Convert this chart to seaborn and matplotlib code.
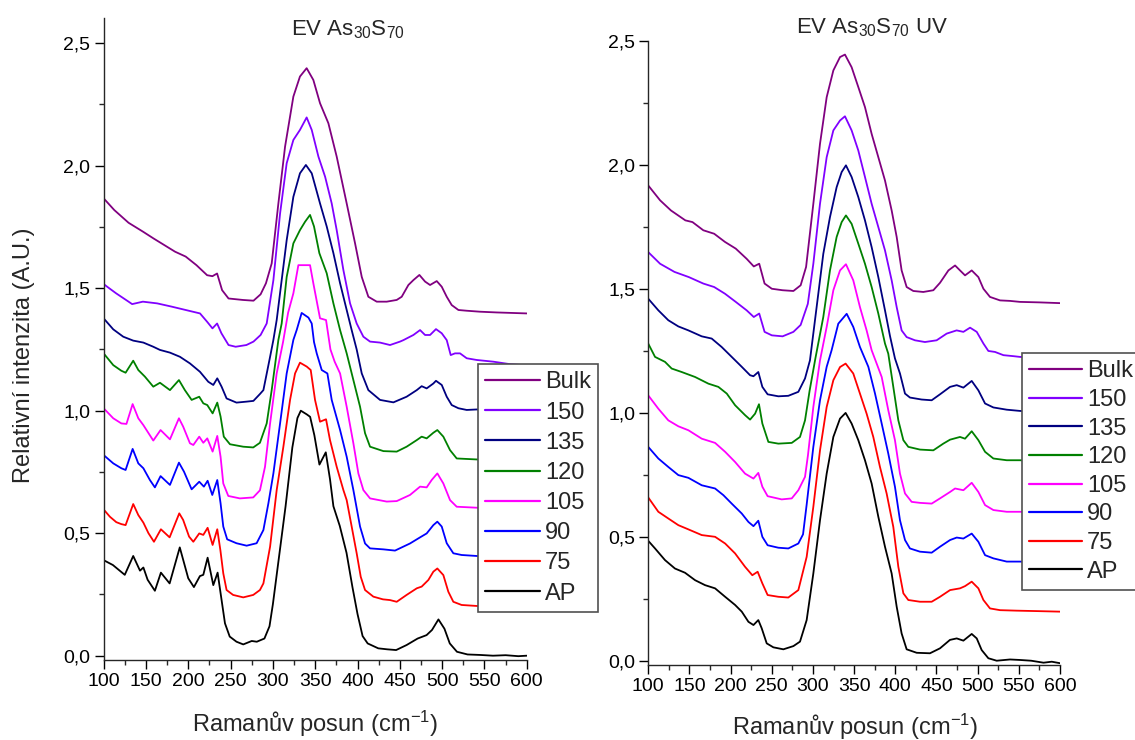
import pandas as pd
import matplotlib
matplotlib.use("Agg")
import matplotlib.pyplot as plt
import seaborn as sns
from matplotlib.ticker import MultipleLocator, FuncFormatter

# Sample names (legend order) and their line colours
SAMPLES = ["Bulk", "150", "135", "120", "105", "90", "75", "AP"]
COLORS = ["#800080", "#8000FF", "#000080", "#008000",
          "#FF00FF", "#0000FF", "#FF0000", "#000000"]

X_TICKS = [100, 150, 200, 250, 300, 350, 400, 450, 500, 550, 600]

# ---- EV As30S70 : (Raman shift [cm-1], relative intensity) ----
L_AP = [(100, 0.39), (111, 0.37), (125, 0.33), (135, 0.407), (143, 0.347), (147, 0.36),
        (152, 0.31), (160.6, 0.265), (167.7, 0.339), (178, 0.295), (190, 0.442),
        (200, 0.316), (206.7, 0.28), (213.8, 0.325), (217.8, 0.33), (222.9, 0.40),
        (229.6, 0.288), (234.7, 0.339), (239.4, 0.227), (243.4, 0.132), (249, 0.078),
        (257, 0.057), (265, 0.046), (275, 0.06), (281, 0.057), (290, 0.07), (296, 0.12),
        (300, 0.21), (306, 0.37), (315, 0.61), (323, 0.85), (329, 0.97), (333, 1.0),
        (340, 0.985), (344, 0.975), (349, 0.90), (355, 0.78), (362.5, 0.83), (367.5, 0.72),
        (371.5, 0.61), (379, 0.53), (387, 0.42), (394, 0.28), (400, 0.17), (406, 0.08),
        (412, 0.05), (424.5, 0.03), (435, 0.026), (445.6, 0.023), (458, 0.0435),
        (471, 0.07), (481.6, 0.084), (488, 0.105), (495.6, 0.148), (502.7, 0.11),
        (509, 0.05), (517.5, 0.016), (530, 0.005), (545, 0.003), (560, 0.0),
        (575, 0.002), (590, -0.002), (600, 0.0)]

L_75 = [(100, 0.597), (107.5, 0.567), (115, 0.545), (121, 0.537), (126, 0.533), (135, 0.619),
        (141, 0.574), (147, 0.543), (153, 0.50), (159.5, 0.465), (167.7, 0.516), (178, 0.483),
        (189.4, 0.581), (194, 0.554), (201, 0.486), (206, 0.465), (213, 0.499), (217.8, 0.493),
        (222.9, 0.522), (228.8, 0.452), (234.3, 0.516), (238, 0.43), (241.4, 0.336),
        (245.3, 0.268), (253, 0.248), (265, 0.238), (276.8, 0.248), (284.7, 0.268),
        (288.8, 0.295), (296.7, 0.445), (304.5, 0.676), (312.4, 0.853), (320.3, 1.044),
        (326.2, 1.152), (332, 1.196), (340, 1.18), (344.7, 1.166), (349.8, 1.044),
        (355.7, 0.955), (362.8, 0.965), (367.5, 0.88), (375.4, 0.771), (383.3, 0.676),
        (387.2, 0.635), (393.1, 0.527), (399, 0.418), (403.8, 0.322), (408.9, 0.268),
        (418.7, 0.241), (430, 0.23), (438.4, 0.227), (446.3, 0.22), (458, 0.248),
        (470, 0.275), (475.8, 0.282), (483.7, 0.309), (489.6, 0.343), (494.3, 0.356),
        (501.4, 0.329), (507.3, 0.261), (513.2, 0.22), (523, 0.207), (540.8, 0.203),
        (570, 0.2), (600, 0.2)]

L_90 = [(100, 0.819), (111.4, 0.785), (121, 0.765), (126, 0.758), (134.3, 0.844), (141, 0.785),
        (147, 0.765), (154.7, 0.717), (160.6, 0.687), (167.3, 0.733), (178.4, 0.697),
        (189, 0.788), (195, 0.751), (204, 0.679), (213, 0.71), (218.5, 0.69), (222.9, 0.714),
        (228.4, 0.656), (234.3, 0.717), (238.2, 0.622), (241.4, 0.527), (246, 0.475),
        (257, 0.459), (269, 0.449), (280.8, 0.459), (288.8, 0.513), (294.7, 0.622),
        (300.6, 0.744), (308.5, 0.948), (316.3, 1.152), (324.2, 1.289), (328.2, 1.33),
        (334, 1.399), (342, 1.38), (345.9, 1.356), (348.6, 1.28), (351.8, 1.234),
        (357.7, 1.166), (364.4, 1.152), (369.5, 1.044), (379.4, 0.921), (387.2, 0.812),
        (395.1, 0.676), (403, 0.527), (408.9, 0.458), (414.8, 0.438), (430.6, 0.434),
        (444.3, 0.429), (462, 0.458), (473.9, 0.483), (481.7, 0.499), (489.6, 0.533),
        (494.3, 0.547), (499.5, 0.527), (505.4, 0.459), (513.2, 0.418), (523, 0.411),
        (540.8, 0.407), (570, 0.403), (600, 0.40)]

L_105 = [(100, 1.01), (111.4, 0.969), (121, 0.948), (127, 0.946), (134.3, 1.027), (141, 0.969),
         (147, 0.941), (158.7, 0.878), (167.3, 0.921), (178.4, 0.883), (189, 0.969),
         (194, 0.935), (202, 0.867), (206, 0.86), (213, 0.894), (217.8, 0.869), (222.5, 0.887),
         (228.8, 0.833), (234.3, 0.897), (238.2, 0.812), (241.4, 0.703), (247.3, 0.652),
         (261, 0.642), (276.8, 0.646), (284.7, 0.675), (290.7, 0.771), (296.7, 0.948),
         (304.5, 1.152), (312, 1.28), (318, 1.40), (324.2, 1.479), (330.1, 1.594),
         (343.9, 1.594), (347.8, 1.52), (355.7, 1.377), (362.8, 1.37), (368, 1.25),
         (373, 1.20), (379.4, 1.152), (387.2, 1.016), (395.1, 0.867), (401, 0.744),
         (406.9, 0.676), (414.8, 0.642), (434.5, 0.629), (446.3, 0.631), (462, 0.656),
         (473.9, 0.69), (481.7, 0.687), (487.6, 0.717), (494.3, 0.744), (501.4, 0.703),
         (509.3, 0.635), (517.2, 0.608), (540.8, 0.604), (570, 0.60), (600, 0.60)]

L_120 = [(100, 1.234), (111.4, 1.186), (121, 1.163), (126, 1.155), (135, 1.204), (141, 1.166),
         (148.8, 1.139), (158.7, 1.098), (166.6, 1.114), (178.4, 1.084), (189, 1.125),
         (196, 1.084), (204, 1.044), (213, 1.057), (217.8, 1.03), (222.5, 1.023),
         (228.8, 0.989), (234.3, 1.033), (238.2, 0.976), (242, 0.894), (249.3, 0.863),
         (265, 0.853), (276.8, 0.85), (284.7, 0.869), (292.7, 0.948), (298.6, 1.084),
         (306.5, 1.289), (310.4, 1.356), (316.3, 1.546), (324.2, 1.683), (332, 1.737),
         (338, 1.771), (343.9, 1.799), (348.6, 1.752), (354.9, 1.643), (363.6, 1.561),
         (371.5, 1.438), (379.4, 1.329), (387.2, 1.234), (395.1, 1.125), (403, 1.016),
         (408.9, 0.908), (414.8, 0.853), (430.6, 0.835), (446.3, 0.833), (458, 0.853),
         (470, 0.88), (475.8, 0.894), (481.7, 0.887), (489.6, 0.91), (494.3, 0.921),
         (501.4, 0.894), (509.3, 0.839), (517.2, 0.805), (540.8, 0.801), (570, 0.80),
         (600, 0.80)]

L_135 = [(100, 1.377), (111.4, 1.332), (123.2, 1.302), (135, 1.286), (147, 1.278),
         (158.7, 1.261), (166.6, 1.248), (178.4, 1.237), (190.2, 1.22), (202, 1.193),
         (213.8, 1.159), (223.7, 1.118), (229.6, 1.105), (234.3, 1.132), (239.4, 1.098),
         (245.3, 1.05), (257, 1.033), (269, 1.037), (277, 1.04), (284.7, 1.068),
         (288.8, 1.084), (296.7, 1.22), (300.6, 1.289), (304.5, 1.37), (310.4, 1.533),
         (316.3, 1.696), (324.2, 1.873), (332, 1.969), (339, 2.003), (345.9, 1.969),
         (355.7, 1.846), (363.6, 1.752), (371.5, 1.643), (379.4, 1.52), (387.2, 1.411),
         (393.1, 1.329), (399, 1.25), (405, 1.152), (412.8, 1.084), (426.6, 1.044),
         (442.4, 1.034), (458, 1.057), (470, 1.084), (475.8, 1.1), (481.7, 1.091),
         (489.6, 1.111), (492.7, 1.122), (499.5, 1.105), (505.4, 1.057), (511.3, 1.023),
         (519.2, 1.01), (529, 1.003), (540.8, 1.005), (570, 1.0), (600, 1.0)]

L_150 = [(100, 1.517), (104.2, 1.506), (114.8, 1.479), (129.5, 1.445), (133.7, 1.435),
         (146.4, 1.445), (163.3, 1.438), (180.1, 1.425), (197, 1.411), (213.9, 1.397),
         (222.3, 1.363), (228.6, 1.336), (234.1, 1.356), (239.2, 1.316), (247.6, 1.268),
         (256, 1.261), (268.7, 1.268), (277.1, 1.282), (285.5, 1.309), (292.7, 1.356),
         (300.6, 1.533), (308.5, 1.805), (316.3, 2.01), (324.2, 2.105), (332, 2.146),
         (339.9, 2.197), (345.9, 2.146), (353.8, 2.037), (361.7, 1.955), (369.5, 1.846),
         (375.4, 1.737), (383.3, 1.574), (391.2, 1.438), (399, 1.356), (406.9, 1.302),
         (414.8, 1.282), (426.6, 1.278), (438.4, 1.268), (450.2, 1.282), (454.2, 1.288),
         (466, 1.309), (473.9, 1.329), (479.8, 1.309), (485.7, 1.309), (492.7, 1.333),
         (499.5, 1.316), (505.4, 1.288), (510.1, 1.227), (515.2, 1.234), (521.1, 1.234),
         (529, 1.214), (540.8, 1.207), (560.5, 1.2), (580, 1.19), (600, 1.185)]

L_BULK = [(100, 1.867), (112.6, 1.819), (129.5, 1.767), (146.4, 1.731), (159, 1.703),
          (171.7, 1.676), (184.4, 1.649), (197, 1.629), (209.7, 1.594), (222.3, 1.553),
          (228.6, 1.549), (234.1, 1.56), (240, 1.492), (247.6, 1.458), (264.5, 1.452),
          (277.1, 1.449), (285.5, 1.475), (291.8, 1.52), (298.6, 1.601), (306.5, 1.846),
          (314.4, 2.078), (324.2, 2.282), (332, 2.364), (339.9, 2.398), (347.8, 2.35),
          (355.7, 2.255), (365.6, 2.173), (375.4, 2.037), (387.2, 1.846), (397.1, 1.683),
          (405, 1.546), (412.8, 1.465), (422.7, 1.445), (434.5, 1.445), (446.3, 1.452),
          (452.2, 1.465), (460.1, 1.513), (466, 1.533), (473.1, 1.554), (479.8, 1.527),
          (485.7, 1.513), (493.6, 1.529), (499.5, 1.506), (505.4, 1.465), (511.3, 1.431),
          (519.2, 1.411), (529, 1.408), (544.8, 1.404), (564.5, 1.401), (600, 1.397)]

# ---- EV As30S70 UV ----
R_AP = [(100, 0.484), (108.3, 0.453), (120.4, 0.406), (132.5, 0.372), (144.7, 0.355),
        (156.9, 0.325), (169, 0.305), (181.2, 0.292), (193.4, 0.258), (205.5, 0.225),
        (213.6, 0.198), (221.7, 0.157), (227.8, 0.144), (233.7, 0.164), (237.8, 0.131),
        (243.9, 0.07), (252, 0.054), (264.1, 0.046), (276.3, 0.059), (284.3, 0.077),
        (292.4, 0.164), (300.5, 0.352), (308.6, 0.567), (316.7, 0.755), (324.8, 0.903),
        (332.9, 0.977), (339.7, 1.0), (347, 0.957), (355.1, 0.89), (363.2, 0.809),
        (371.3, 0.715), (379.4, 0.581), (387.5, 0.46), (395.6, 0.352), (401.7, 0.218),
        (407.7, 0.11), (413.8, 0.046), (426, 0.032), (442.1, 0.03), (454.3, 0.05),
        (466.4, 0.084), (474.6, 0.09), (482.7, 0.081), (492.8, 0.108), (498.9, 0.09),
        (504.9, 0.043), (513, 0.01), (523.1, 0.0), (539.3, 0.005), (551.4, 0.003),
        (565, 0.0), (580, -0.008), (590, -0.004), (600, -0.01)]

R_75 = [(100, 0.659), (112.3, 0.601), (124.4, 0.574), (136.6, 0.547), (148.8, 0.53),
        (165, 0.507), (181.2, 0.5), (193.4, 0.473), (205.5, 0.433), (217.6, 0.379),
        (226.4, 0.345), (232.9, 0.359), (238.6, 0.312), (245, 0.265), (258, 0.258),
        (270.1, 0.255), (282.3, 0.285), (292.4, 0.419), (300.5, 0.621), (308.6, 0.849),
        (316.7, 1.024), (324.8, 1.132), (332.9, 1.185), (339.7, 1.199), (349, 1.159),
        (357.1, 1.078), (365.2, 0.997), (373.3, 0.903), (381.4, 0.782), (389.5, 0.675),
        (397.6, 0.54), (403.7, 0.379), (409.8, 0.272), (415.8, 0.245), (430, 0.238),
        (444.2, 0.238), (454.3, 0.258), (466.5, 0.285), (478.6, 0.292), (484.7, 0.301),
        (492.8, 0.319), (500.9, 0.292), (507, 0.245), (515, 0.211), (527.2, 0.204),
        (547.4, 0.202), (575, 0.2), (600, 0.198)]

R_90 = [(100, 0.863), (112.3, 0.816), (124.4, 0.782), (136.6, 0.749), (148.8, 0.738),
        (165, 0.708), (181.2, 0.695), (191.3, 0.668), (201.4, 0.634), (213.6, 0.594),
        (221.7, 0.56), (227.8, 0.543), (233.7, 0.565), (238.6, 0.5), (245, 0.466),
        (258, 0.456), (270.1, 0.453), (282.3, 0.473), (288, 0.51), (292.4, 0.63),
        (300.5, 0.863), (308.6, 1.051), (316.7, 1.186), (322.7, 1.253), (330.8, 1.36),
        (341, 1.4), (349, 1.347), (357.1, 1.266), (367.3, 1.186), (375.4, 1.078),
        (383.5, 0.957), (391.5, 0.836), (399.6, 0.702), (405.7, 0.567), (411.8, 0.487),
        (417.8, 0.453), (430, 0.44), (444.2, 0.436), (454.3, 0.46), (466.5, 0.487),
        (474.6, 0.497), (482.7, 0.493), (492.8, 0.513), (500.9, 0.48), (509, 0.426),
        (519.1, 0.413), (535.3, 0.4), (551.4, 0.4), (575, 0.397), (600, 0.395)]

R_105 = [(100, 1.071), (112.3, 1.017), (124.4, 0.97), (136.6, 0.946), (148.8, 0.93),
         (165, 0.896), (181.2, 0.879), (193.4, 0.843), (205.5, 0.802), (217.6, 0.755),
         (227.8, 0.735), (233.7, 0.758), (238.6, 0.702), (245, 0.664), (262.1, 0.651),
         (274.3, 0.655), (282.3, 0.688), (290.4, 0.742), (294, 0.83), (300.5, 1.024),
         (308.6, 1.212), (316.7, 1.347), (324.8, 1.495), (332.9, 1.575), (340.1, 1.6),
         (349, 1.535), (357.1, 1.427), (365.2, 1.333), (371.3, 1.253), (383.5, 1.145),
         (391.5, 1.011), (399.6, 0.89), (405.7, 0.755), (411.8, 0.675), (419.9, 0.641),
         (430, 0.637), (444.2, 0.634), (454.3, 0.655), (466.5, 0.681), (472.6, 0.695),
         (482.7, 0.688), (492.8, 0.718), (500.9, 0.681), (509, 0.628), (519.1, 0.608),
         (535.3, 0.601), (551.4, 0.601), (575, 0.598), (600, 0.595)]

R_120 = [(100, 1.28), (108.3, 1.226), (120.4, 1.206), (128.5, 1.179), (140.7, 1.165),
         (156.9, 1.145), (173.1, 1.118), (185.2, 1.105), (195.4, 1.078), (205.5, 1.031),
         (217.6, 0.991), (223.7, 0.973), (229.8, 0.997), (234.5, 1.035), (238.6, 0.957),
         (245.9, 0.883), (258, 0.876), (274.3, 0.879), (284.3, 0.903), (290.4, 0.97),
         (296, 1.09), (303, 1.22), (312.6, 1.387), (320.7, 1.575), (328.8, 1.71),
         (334.9, 1.77), (340.1, 1.797), (347, 1.763), (355.1, 1.683), (363.2, 1.602),
         (371.3, 1.508), (379.4, 1.401), (387.5, 1.28), (391.5, 1.239), (397.6, 1.105),
         (403.7, 0.97), (409.8, 0.89), (415.8, 0.863), (430, 0.852), (446.2, 0.849),
         (458.3, 0.876), (466.5, 0.892), (478.6, 0.903), (484.7, 0.896), (492.8, 0.926),
         (500.9, 0.89), (509, 0.843), (519.1, 0.816), (535.3, 0.809), (551.4, 0.809),
         (575, 0.805), (600, 0.80)]

R_135 = [(100, 1.461), (112.3, 1.414), (124.4, 1.374), (136.6, 1.349), (148.8, 1.333),
         (165, 1.309), (177.1, 1.3), (189.2, 1.266), (201.4, 1.226), (213.6, 1.186),
         (223.7, 1.152), (227.8, 1.148), (233.7, 1.165), (238.6, 1.105), (245, 1.075),
         (258, 1.067), (270.1, 1.069), (282.3, 1.085), (290.4, 1.139), (296.4, 1.212),
         (304.5, 1.427), (312.6, 1.642), (320.7, 1.79), (328.8, 1.911), (334.9, 1.972),
         (340.1, 1.999), (347, 1.952), (355.1, 1.871), (363.2, 1.777), (371.3, 1.669),
         (379.4, 1.548), (387.5, 1.414), (393.6, 1.31), (399.6, 1.22), (405.7, 1.159),
         (411.8, 1.078), (417.8, 1.062), (432, 1.054), (444.2, 1.051), (454.3, 1.075),
         (466.5, 1.105), (474.6, 1.112), (482.7, 1.102), (492.8, 1.129), (500.9, 1.091),
         (509, 1.038), (519.1, 1.022), (535.3, 1.013), (551.4, 1.008), (575, 1.003),
         (600, 1.0)]

R_150 = [(100, 1.649), (114.4, 1.602), (131.9, 1.569), (149.4, 1.548), (166.9, 1.522),
         (180.1, 1.508), (193.2, 1.481), (206.3, 1.448), (219.5, 1.414), (228.2, 1.387),
         (234.8, 1.401), (241.3, 1.327), (250.1, 1.313), (263.2, 1.309), (276.3, 1.327),
         (285.1, 1.355), (293.8, 1.44), (300.5, 1.602), (308.6, 1.844), (316.7, 2.032),
         (324.8, 2.14), (332.9, 2.18), (338.9, 2.197), (347, 2.14), (355.1, 2.059),
         (363.2, 1.952), (371.3, 1.844), (379.4, 1.75), (387.5, 1.656), (395.6, 1.535),
         (401.7, 1.427), (407.7, 1.333), (413.8, 1.306), (423.9, 1.293), (436, 1.286),
         (450.2, 1.293), (462.4, 1.32), (474.5, 1.333), (482.7, 1.327), (490.8, 1.344),
         (498.9, 1.327), (507, 1.28), (513, 1.25), (521.1, 1.246), (531.3, 1.233),
         (543.4, 1.229), (551.4, 1.226), (575, 1.222), (600, 1.22)]

R_BULK = [(100, 1.918), (114.4, 1.858), (127.6, 1.817), (145.1, 1.777), (153.8, 1.77),
          (166.9, 1.737), (180.1, 1.723), (193.2, 1.69), (206.3, 1.663), (219.5, 1.622),
          (228.2, 1.591), (234.8, 1.602), (241.3, 1.522), (250.1, 1.501), (263.2, 1.495),
          (276.3, 1.492), (285.1, 1.515), (291.7, 1.589), (300.5, 1.844), (308.6, 2.086),
          (316.7, 2.274), (324.8, 2.382), (332.9, 2.436), (338.9, 2.446), (347, 2.395),
          (355.1, 2.315), (363.2, 2.234), (371.3, 2.126), (379.4, 2.032), (387.5, 1.938),
          (395.6, 1.817), (401.7, 1.71), (407.7, 1.575), (413.8, 1.508), (421.9, 1.492),
          (434, 1.488), (446.2, 1.495), (454.3, 1.525), (464.5, 1.575), (472.6, 1.595),
          (478.6, 1.575), (484.7, 1.555), (492.8, 1.575), (500.9, 1.548), (507, 1.501),
          (515, 1.468), (527.2, 1.454), (539.3, 1.452), (551.4, 1.448), (575, 1.446),
          (600, 1.443)]

LEFT_CURVES = [L_BULK, L_150, L_135, L_120, L_105, L_90, L_75, L_AP]
RIGHT_CURVES = [R_BULK, R_150, R_135, R_120, R_105, R_90, R_75, R_AP]


def to_frame(curves):
    rows = []
    for name, pts in zip(SAMPLES, curves):
        for shift, val in pts:
            rows.append((name, shift, val))
    return pd.DataFrame(rows, columns=["sample", "shift", "intensity"])


sns.set_style("ticks")
plt.rcParams["font.family"] = ["Liberation Sans", "DejaVu Sans"]
plt.rcParams["mathtext.default"] = "regular"
plt.rcParams["axes.linewidth"] = 1.0

W, H = 1135, 740
fig = plt.figure(figsize=(W / 100, H / 100), dpi=100)
ax_l = fig.add_axes([103.6 / W, 1 - 660 / H, 423.2 / W, 641.7 / H])
ax_r = fig.add_axes([648.2 / W, 1 - 665 / H, 411.8 / W, 624.3 / H])

palette = dict(zip(SAMPLES, COLORS))
comma = FuncFormatter(lambda v, p: f"{v:.1f}".replace(".", ","))


def draw_panel(ax, curves, ylim, legend_anchor, spacing, handle_len):
    df = to_frame(curves)
    sns.lineplot(data=df, x="shift", y="intensity", hue="sample", hue_order=SAMPLES,
                 palette=palette, estimator=None, sort=False, linewidth=1.3, ax=ax)
    ax.set_xlim(100, 600)
    ax.set_ylim(*ylim)
    ax.set_xticks(X_TICKS)
    ax.xaxis.set_minor_locator(MultipleLocator(25))
    ax.yaxis.set_major_locator(MultipleLocator(0.5))
    ax.yaxis.set_minor_locator(MultipleLocator(0.25))
    ax.yaxis.set_major_formatter(comma)
    ax.tick_params(which="major", length=6.5, width=1.0, labelsize=14,
                   direction="out", pad=3, colors="black")
    ax.tick_params(which="minor", length=3.3, width=1.0, direction="out")
    ax.set_xlabel("")
    ax.set_ylabel("")
    sns.despine(ax=ax)
    handles, labels = ax.get_legend_handles_labels()
    for h in handles:
        h.set_linewidth(1.6)
    leg = ax.legend(handles, labels, loc="upper left", bbox_to_anchor=legend_anchor,
                    bbox_transform=fig.transFigure, frameon=True, fancybox=False,
                    framealpha=1.0, edgecolor="#505050", fontsize=17,
                    handlelength=handle_len, handletextpad=0.2, labelspacing=spacing,
                    borderpad=0.31, borderaxespad=0.0)
    leg.get_frame().set_linewidth(1.2)


draw_panel(ax_l, LEFT_CURVES, (-0.0176, 2.6016), (478 / W, 1 - 364 / H), 0.347, 2.33)
draw_panel(ax_r, RIGHT_CURVES, (-0.0173, 2.502), (1022 / W, 1 - 353 / H), 0.28, 2.25)

fig.text(348 / W, 1 - 35 / H, "EV As$_{30}$S$_{70}$", ha="center", va="baseline", fontsize=16)
fig.text(872 / W, 1 - 33 / H, "EV As$_{30}$S$_{70}$ UV", ha="center", va="baseline", fontsize=16)
fig.text(315 / W, 1 - 732 / H, "Ramanův posun (cm$^{-1}$)", ha="center", va="baseline", fontsize=17)
fig.text(855 / W, 1 - 735 / H, "Ramanův posun (cm$^{-1}$)", ha="center", va="baseline", fontsize=17)
fig.text(24 / W, 1 - 355 / H, "Relativní intenzita (A.U.)", rotation=90,
         ha="center", va="center", fontsize=17)

fig.savefig("out.png", dpi=100)
